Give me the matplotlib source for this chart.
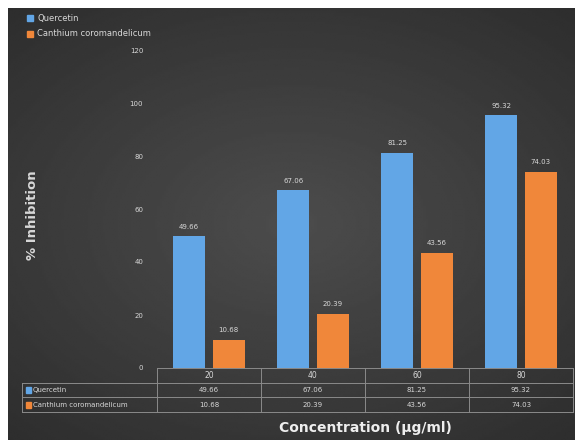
import matplotlib
matplotlib.use("Agg")
import matplotlib.pyplot as plt
from matplotlib.patches import Rectangle
from matplotlib.lines import Line2D
import numpy as np

categories = ["20", "40", "60", "80"]
quercetin = [49.66, 67.06, 81.25, 95.32]
canthium = [10.68, 20.39, 43.56, 74.03]
series_names = ["Quercetin", "Canthium coromandelicum"]

blue = "#62a6e6"
orange = "#f0873a"
txt = "#d8d8d8"
line_col = "#8a8a8a"

W, H = 575, 440
fig = plt.figure(figsize=(W / 100, H / 100), dpi=100)
fig.patch.set_facecolor("white")

# dark vignette background inside a thin white frame
bg = fig.add_axes([8 / W, 0, 1 - 8 / W, 1 - 8 / H])
yy, xx = np.mgrid[-1:1:200j, -1:1:260j]
r = np.sqrt(xx ** 2 * 0.8 + yy ** 2)
bg.imshow(0.30 - 0.09 * r, cmap="gray", vmin=0, vmax=1, aspect="auto",
          interpolation="bilinear")
bg.axis("off")

left, right = 157 / W, 573 / W
bottom, top = 1 - 368 / H, 1 - 50 / H
ax = fig.add_axes([left, bottom, right - left, top - bottom])
ax.set_facecolor("none")

x = np.arange(len(categories))
w = 0.31
b1 = ax.bar(x - 0.19, quercetin, w, color=blue)
b2 = ax.bar(x + 0.19, canthium, w, color=orange)
for bars, vals in [(b1, quercetin), (b2, canthium)]:
    for bar, v in zip(bars, vals):
        ax.text(bar.get_x() + bar.get_width() / 2, v + 2.5, f"{v:.2f}",
                ha="center", va="bottom", fontsize=5, color=txt)

ax.set_xlim(-0.5, len(categories) - 0.5)
ax.set_ylim(0, 120)
ax.set_yticks(range(0, 121, 20))
ax.tick_params(axis="y", length=0, labelsize=5, colors=txt, pad=10)
ax.set_xticks([])
for s in ax.spines.values():
    s.set_visible(False)

# data table under the plot
row_y = [368, 383, 397, 412]
fy = [1 - v / H for v in row_y]
tx = 22 / W
col_edges = [left + (right - left) * i / len(categories) for i in range(len(categories) + 1)]
for i, yv in enumerate(fy):
    x0 = left if i == 0 else tx
    fig.add_artist(Line2D([x0, right], [yv, yv], color=line_col, lw=0.7,
                          transform=fig.transFigure))
for i, xe in enumerate(col_edges):
    fig.add_artist(Line2D([xe, xe], [fy[0], fy[-1]], color=line_col, lw=0.7,
                          transform=fig.transFigure))
fig.add_artist(Line2D([tx, tx], [fy[1], fy[-1]], color=line_col, lw=0.7,
                      transform=fig.transFigure))

centers = [(col_edges[i] + col_edges[i + 1]) / 2 for i in range(len(categories))]
for c, lab in zip(centers, categories):
    fig.text(c, (fy[0] + fy[1]) / 2, lab, ha="center", va="center", fontsize=5.5, color=txt)
for r_i, (name, vals, col) in enumerate([(series_names[0], quercetin, blue),
                                          (series_names[1], canthium, orange)]):
    yc = (fy[r_i + 1] + fy[r_i + 2]) / 2
    fig.add_artist(Rectangle((tx + 4 / W, yc - 3 / H), 5 / W, 6 / H, color=col,
                             transform=fig.transFigure))
    fig.text(tx + 11 / W, yc, name, ha="left", va="center", fontsize=5, color=txt)
    for c, v in zip(centers, vals):
        fig.text(c, yc, f"{v:.2f}", ha="center", va="center", fontsize=5, color=txt)

# legend
for i, (name, col) in enumerate(zip(series_names, [blue, orange])):
    yc = 1 - (18 + 16 * i) / H
    fig.add_artist(Rectangle((27 / W, yc - 3 / H), 6 / W, 6 / H, color=col,
                             transform=fig.transFigure))
    fig.text(37 / W, yc, name, ha="left", va="center", fontsize=6, color=txt)

fig.text(33 / W, 1 - 215 / H, "% Inhibition", rotation=90, ha="center", va="center",
         fontsize=9.5, fontweight="bold", color=txt)
fig.text(365 / W, 1 - 428 / H, "Concentration (µg/ml)", ha="center", va="center",
         fontsize=10, fontweight="bold", color="#eeeeee")

fig.savefig("out.png", dpi=100, facecolor=fig.get_facecolor())
